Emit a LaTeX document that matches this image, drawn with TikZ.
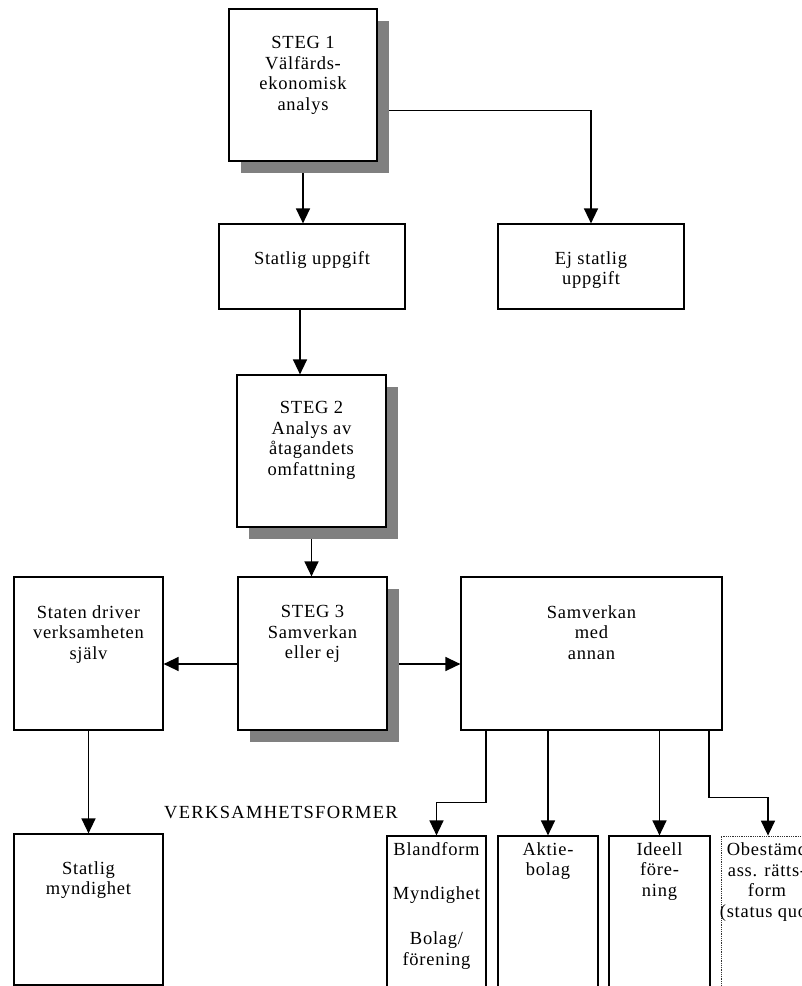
\documentclass[tikz,border=0pt]{standalone}
\usepackage{fontspec}
\setmainfont{Liberation Serif}[LetterSpace=4]
\usetikzlibrary{arrows.meta,shadows,backgrounds}
\tikzset{
  box/.style={draw=black, line width=1.2pt, fill=white, rectangle, inner sep=0pt},
  shbox/.style={box, drop shadow={shadow xshift=12pt, shadow yshift=-11.5pt, fill=gray, opacity=1}},
  txt/.style={inner sep=0pt, align=center, font=\fontsize{18.5}{20.5}\selectfont, anchor=north},
  conn/.style={line width=1.4pt, -{Triangle[length=15pt,width=14pt]}},
}
\begin{document}
\begin{tikzpicture}[x=1pt,y=-1pt]
\useasboundingbox (0,0) rectangle (802,986);
\clip (0,0) rectangle (802,986);
% boxes
\node[shbox, minimum width=148pt, minimum height=152pt] (s1) at (303,85) {};
\node[box, minimum width=186pt, minimum height=85pt] (su) at (312,266.5) {};
\node[box, minimum width=186pt, minimum height=85pt] (ej) at (591,266.5) {};
\node[shbox, minimum width=149pt, minimum height=152pt] (s2) at (311.5,451) {};
\node[shbox, minimum width=149pt, minimum height=153pt] (s3) at (312.5,653.5) {};
\node[box, minimum width=149pt, minimum height=153pt] (sd) at (88.5,653.5) {};
\node[box, minimum width=261pt, minimum height=153pt] (sa) at (591.5,653.5) {};
\node[box, minimum width=149pt, minimum height=151pt] (sm) at (88.5,909.5) {};
\node[box, minimum width=99pt, minimum height=160pt] (b1) at (436.5,916) {};
\node[box, minimum width=100pt, minimum height=160pt] (b2) at (548,916) {};
\node[box, minimum width=101pt, minimum height=160pt] (b3) at (659.5,916) {};
\node[box, draw=black!80, line width=0.8pt, densely dotted, minimum width=94pt, minimum height=160pt] (b4) at (768,916) {};
% texts
\node[txt] (s1t) at ([yshift=-28pt]s1.north) {STEG 1\\Välfärds-\\ekonomisk\\analys};
\node[txt] (sut) at ([yshift=-28pt]su.north) {Statlig uppgift};
\node[txt] (ejt) at ([yshift=-28pt]ej.north) {Ej statlig\\uppgift};
\node[txt] (s2t) at ([yshift=-27pt]s2.north) {STEG 2\\Analys av\\åtagandets\\omfattning};
\node[txt] (s3t) at ([yshift=-29pt]s3.north) {STEG 3\\Samverkan\\eller ej};
\node[txt] (sdt) at ([yshift=-29pt]sd.north) {Staten driver\\verksamheten\\själv};
\node[txt] (sat) at ([yshift=-29pt]sa.north) {Samverkan\\med\\annan};
\node[txt] (smt) at ([yshift=-28pt]sm.north) {Statlig\\myndighet};
\node[txt] (b1t) at ([yshift=-7pt]b1.north) {Blandform\\[23pt]Myndighet\\[25pt]Bolag/\\förening};
\node[txt] (b2t) at ([yshift=-7pt]b2.north) {Aktie-\\bolag};
\node[txt] (b3t) at ([yshift=-7pt]b3.north) {Ideell\\före-\\ning};
\node[txt] (b4t) at ([xshift=-1pt,yshift=-7pt]b4.north) {Obestämd\\ass. rätts-\\form\\(status quo)};
\node[inner sep=0pt, anchor=base, font=\fontsize{18.5}{20.5}\selectfont\addfontfeatures{LetterSpace=7}] (vf) at (281,818) {VERKSAMHETSFORMER};
% connectors
\begin{scope}[on background layer]
\draw[conn] (s1.south) -- (s1.south |- su.north);
\draw[conn] ([yshift=-25.7pt]s1.east) -| (ej.north);
\draw[conn] ([xshift=-12pt]su.south) -- ([xshift=-12pt]su.south |- s2.north);
\draw[conn] (s2.south) -- (s2.south |- s3.north);
\draw[conn] ([yshift=-10.5pt]s3.west) -- ([yshift=-10.5pt]s3.west -| sd.east);
\draw[conn] ([yshift=-10.5pt]s3.east) -- ([yshift=-10.5pt]s3.east -| sa.west);
\draw[conn] (sd.south) -- (sm.north);
\draw[conn] ([xshift=-105.5pt]sa.south) -- ++(0,71.7) -| (b1.north);
\draw[conn] (b2.north |- sa.south) -- (b2.north);
\draw[conn] (b3.north |- sa.south) -- (b3.north);
\draw[conn] ([xshift=117.5pt]sa.south) -- ++(0,66.7) -| (b4.north);
\end{scope}
\end{tikzpicture}
\end{document}
